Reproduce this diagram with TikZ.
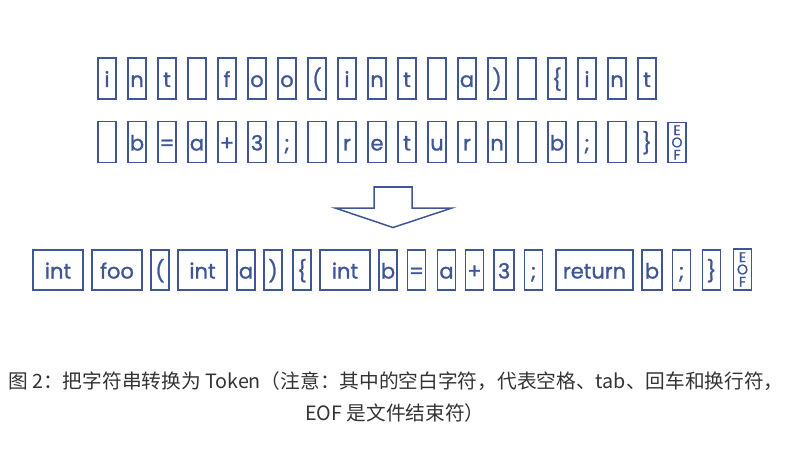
\documentclass[tikz,border=0pt]{standalone}
\usepackage{fontspec}
\setmainfont{Poppins}
\newfontfamily\boxfont[FakeBold=1.2]{Poppins}
\newfontfamily\cjk{Noto Sans CJK SC}
\definecolor{boxblue}{RGB}{62,86,150}
\definecolor{capgray}{RGB}{51,51,51}
\tikzset{
  chbox/.style={draw=boxblue, line width=1.5pt, text=boxblue, inner sep=0pt,
    minimum width=18pt, minimum height=41pt, text height=17pt, text depth=0pt,
    font=\boxfont\fontsize{21}{22}\selectfont},
  tokbox/.style={chbox, minimum height=40pt},
  eofbox/.style={draw=boxblue, line width=1.5pt, text=boxblue, inner sep=0pt,
    minimum width=18pt, font=\boxfont\fontsize{14}{12.3}\selectfont, align=center},
  arrowshape/.style={draw=boxblue, line width=1.5pt, fill=white, line join=miter},
  caption/.style={font=\cjk\fontsize{19.7}{24}\selectfont, text=capgray, inner sep=0pt}
}
\begin{document}
\begin{tikzpicture}[x=1pt,y=-1pt]
\useasboundingbox (0,0) rectangle (805,449);
% row 1
\foreach \c [count=\i from 0] in {i,n,t,{},f,o,o,{(},i,n,t,{},a,{)},{},{\{},i,n,t}
  \node[chbox] (ra\i) at (107+30*\i,78.5) {\c};
% row 2
\foreach \c [count=\i from 0] in {{},b,=,a,+,3,;,{},r,e,t,u,r,n,{},b,;,{},{\}}}
  \node[chbox] (rb\i) at (107+30*\i,142) {\c};
\node[eofbox, minimum height=40pt] (rbeof) at (677,142.5) {E\\O\\F};
% arrow
\coordinate (a1) at (374,187);
\coordinate (a2) at (412,187);
\coordinate (a3) at (412,208);
\coordinate (a4) at (452,208);
\coordinate (a5) at (393,227.5);
\coordinate (a6) at (335,208);
\coordinate (a7) at (374,208);
\draw[arrowshape] (a1) -- (a2) -- (a3) -- (a4) -- (a5) -- (a6) -- (a7) -- cycle;
% row 3 tokens
\node[tokbox, minimum width=50pt] (t1) at (58,270) {int};
\node[tokbox, minimum width=50pt] (t2) at (117,270) {foo};
\node[tokbox] (t3) at (160,270) {(};
\node[tokbox, minimum width=49pt] (t4) at (202.5,270) {int};
\node[tokbox] (t5) at (246,270) {a};
\node[tokbox] (t6) at (273,270) {)};
\node[tokbox] (t7) at (302,270) {\{};
\node[tokbox, minimum width=50pt] (t8) at (345,270) {int};
\node[tokbox] (t9) at (388,270) {b};
\node[tokbox] (t10) at (416.5,270) {=};
\node[tokbox] (t11) at (446.5,270) {a};
\node[tokbox] (t12) at (474.5,270) {+};
\node[tokbox, minimum width=20pt] (t13) at (504,270) {3};
\node[tokbox] (t14) at (533.5,270) {;};
\node[tokbox, minimum width=77pt] (t15) at (594.5,270) {return};
\node[tokbox, minimum width=20pt] (t16) at (652,270) {b};
\node[tokbox] (t17) at (681.5,270) {;};
\node[tokbox] (t18) at (711.5,270) {\}};
\node[eofbox, minimum height=41pt] (t19) at (742.5,269.5) {E\\O\\F};
% caption
\node[caption, anchor=west] (cap1) at (8,381) {图 2：把字符串转换为 Token（注意：其中的空白字符，代表空格、tab、回车和换行符，};
\node[caption, anchor=west] (cap2) at (305,413) {EOF 是文件结束符）};
\end{tikzpicture}
\end{document}
